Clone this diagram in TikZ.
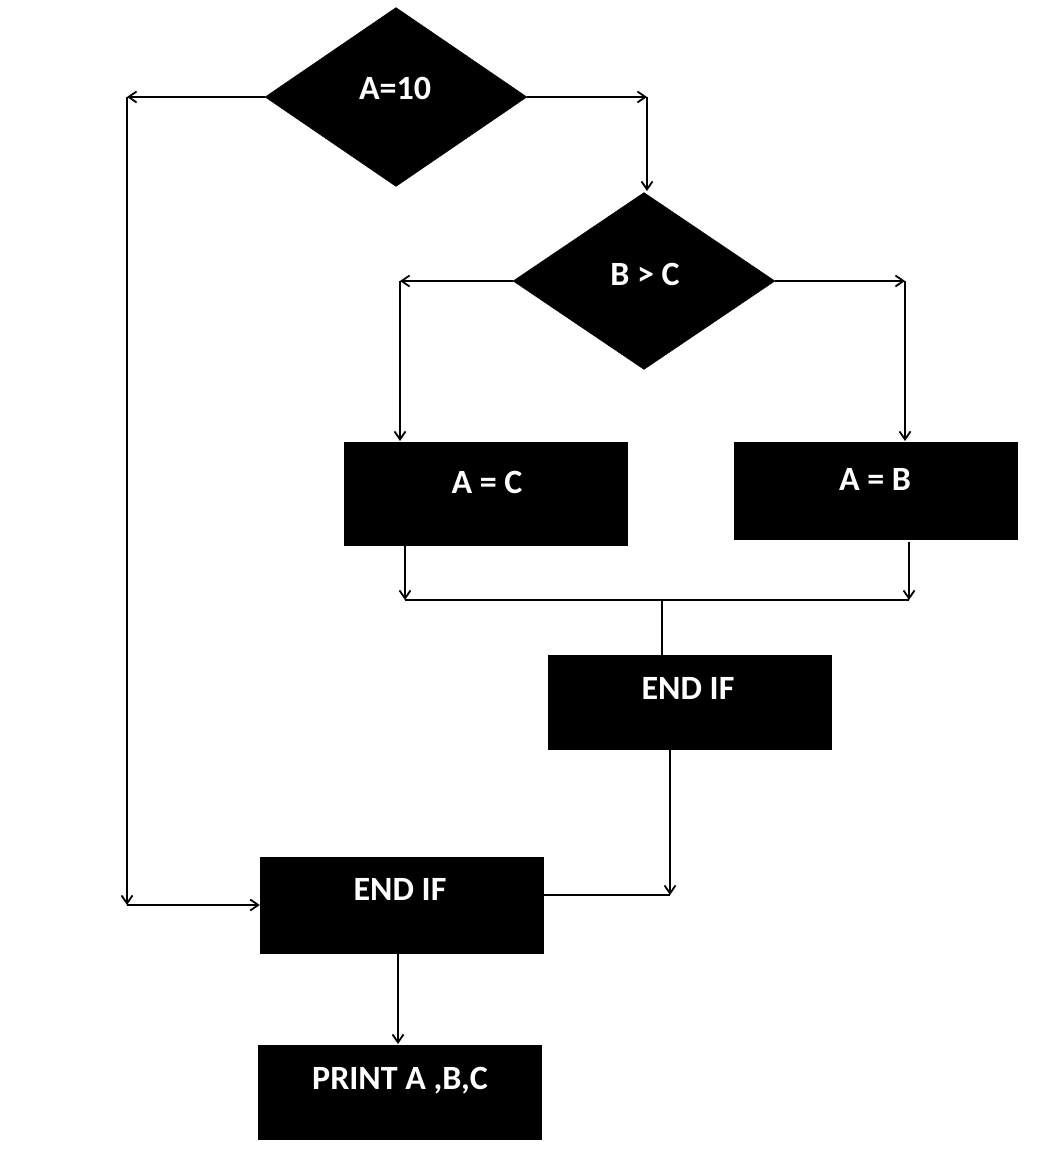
\documentclass[tikz,border=0pt]{standalone}
\usepackage{fontspec}
\setmainfont{Carlito}
\usetikzlibrary{shapes.geometric,arrows.meta}
\tikzset{
  blk/.style={draw=black, fill=black, rectangle, inner sep=0pt},
  dia/.style={draw=black, fill=black, diamond, inner sep=0pt},
  txt/.style={text=white, font=\fontsize{34}{40}\selectfont\bfseries, anchor=base, inner sep=0pt},
  arr/.style={line width=1.8pt, -{Straight Barb[length=8pt,width=11pt,line width=1.8pt]}},
  ln/.style={line width=1.8pt}
}
\begin{document}
\begin{tikzpicture}[x=1pt,y=-1pt]
\useasboundingbox (0,0) rectangle (1041,1166);
% shapes
\node[dia, minimum width=262pt, minimum height=179pt] (d1) at (396,97) {};
\node[dia, minimum width=262pt, minimum height=177pt] (d2) at (644,281) {};
\node[blk, minimum width=283pt, minimum height=103pt] (ac) at (485.5,493.5) {};
\node[blk, minimum width=283pt, minimum height=97pt] (ab) at (875.5,490.5) {};
\node[blk, minimum width=283pt, minimum height=94pt] (e1) at (689.5,702) {};
\node[blk, minimum width=283pt, minimum height=96pt] (e2) at (401.5,905) {};
\node[blk, minimum width=283pt, minimum height=94pt] (pr) at (399.5,1092) {};
% texts
\node[txt] (t1) at (395,100) {A=10};
\node[txt] (t2) at (645,285) {B > C};
\node[txt] (t3) at (487,493) {A = C};
\node[txt] (t4) at (875,490) {A = B};
\node[txt] (t5) at (688,699) {END IF};
\node[txt] (t6) at (400,900) {END IF};
\node[txt] (t7) at (400,1089) {PRINT A ,B,C};
% coordinates
\coordinate (l1) at (127,97);
\coordinate (l2) at (127,905);
\coordinate (r1) at (647,97);
\coordinate (r2) at (647,191);
\coordinate (bl1) at (400,281);
\coordinate (bl2) at (400,441);
\coordinate (br1) at (905,281);
\coordinate (br2) at (905,441);
\coordinate (ca) at (405,545);
\coordinate (cb) at (405,600);
\coordinate (ba) at (909,542);
\coordinate (bb) at (909,600);
\coordinate (m1) at (662,600);
\coordinate (m2) at (662,655);
\coordinate (ea) at (670,749);
\coordinate (eb) at (670,895);
\coordinate (ec) at (543,895);
\coordinate (pa) at (398,953);
\coordinate (pb) at (398,1044);
% connectors
\draw[arr] (d1.west) -- (l1);
\draw[arr] (l1) -- (l2);
\draw[arr] (l2) -- (e2.west);
\draw[arr] (d1.east) -- (r1);
\draw[arr] (r1) -- (r2);
\draw[arr] (d2.west) -- (bl1);
\draw[arr] (bl1) -- (bl2);
\draw[arr] (d2.east) -- (br1);
\draw[arr] (br1) -- (br2);
\draw[arr] (ca) -- (cb);
\draw[arr] (ba) -- (bb);
\draw[ln] (cb) -- (bb);
\draw[ln] (m1) -- (m2);
\draw[arr] (ea) -- (eb);
\draw[ln] (eb) -- (ec);
\draw[arr] (pa) -- (pb);
\end{tikzpicture}
\end{document}
